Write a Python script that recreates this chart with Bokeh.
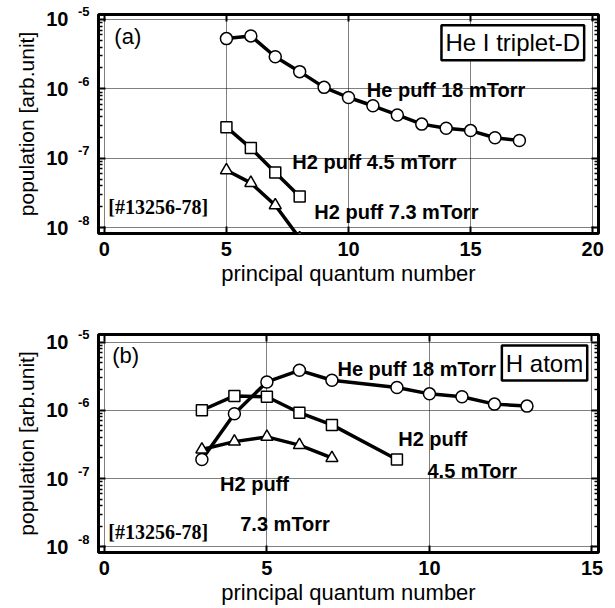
from bokeh.plotting import figure
from bokeh.models import Range1d, LinearAxis, LogAxis, Label, FixedTicker
from bokeh.layouts import column
from bokeh.embed import file_html
from bokeh.resources import INLINE

# ---------------- data: panel (a) He I triplet-D ----------------
a_he_n = [5, 6, 7, 8, 9, 10, 11, 12, 13, 14, 15, 16, 17]
a_he_pop = [5.3e-6, 5.8e-6, 2.9e-6, 1.77e-6, 1.05e-6, 7.5e-7, 5.7e-7,
            4.2e-7, 3.1e-7, 2.7e-7, 2.5e-7, 1.97e-7, 1.8e-7]
a_h245_n = [5, 6, 7, 8]
a_h245_pop = [2.8e-7, 1.4e-7, 6.2e-8, 2.8e-8]
a_h273_n = [5, 6, 7, 8]
a_h273_pop = [6.7e-8, 4.4e-8, 2.1e-8, 7.0e-9]

# ---------------- data: panel (b) H atom ----------------
b_he_n = [3, 4, 5, 6, 7, 9, 10, 11, 12, 13]
b_he_pop = [1.9e-7, 8.9e-7, 2.6e-6, 3.85e-6, 2.75e-6, 2.16e-6, 1.74e-6,
            1.58e-6, 1.23e-6, 1.15e-6]
b_h245_n = [3, 4, 5, 6, 7, 9]
b_h245_pop = [1.0e-6, 1.62e-6, 1.58e-6, 9.2e-7, 6.1e-7, 1.9e-7]
b_h273_n = [3, 4, 5, 6, 7]
b_h273_pop = [2.66e-7, 3.47e-7, 4.07e-7, 3.09e-7, 2.0e-7]

# ---------------- ticks ----------------
a_xticks = [0, 5, 10, 15, 20]
b_xticks = [0, 5, 10, 15]
y_tick_vals = [1e-8, 1e-7, 1e-6, 1e-5]
y_tick_base = ["10", "10", "10", "10"]
y_tick_exp = ["-8", "-7", "-6", "-5"]
y_minor_mult = [2, 3, 4, 5, 6, 7, 8, 9]

SANS = "Liberation Sans"
SERIF = "Liberation Serif"


def make_panel(height, xr, yr, bt, bb, xticks):
    p = figure(width=615, height=height, x_range=Range1d(*xr), y_range=Range1d(*yr),
               y_axis_type="log", output_backend="svg", toolbar_location=None,
               min_border_left=98, min_border_right=17, min_border_top=bt,
               min_border_bottom=bb)
    p.background_fill_color = "white"
    p.border_fill_color = "white"
    p.outline_line_color = "black"
    p.outline_line_width = 3

    minors = [v * m for v in y_tick_vals[:-1] for m in y_minor_mult]
    yticker = FixedTicker(ticks=y_tick_vals, minor_ticks=minors)

    top = LinearAxis()
    right = LogAxis()
    p.add_layout(top, "above")
    p.add_layout(right, "right")

    for ax in p.xaxis:
        ax.ticker = FixedTicker(ticks=xticks)
        ax.minor_tick_line_color = None
    for ax in p.yaxis:
        ax.ticker = yticker
        ax.minor_tick_in = 4
        ax.minor_tick_out = 0
        ax.minor_tick_line_width = 1.5
        ax.minor_tick_line_color = "black"
    for ax in p.axis:
        ax.axis_line_color = None
        ax.major_tick_in = 7
        ax.major_tick_out = 0
        ax.major_tick_line_width = 2
        ax.major_tick_line_color = "black"

    for ax in [top, right]:
        ax.major_label_text_font_size = "1px"
        ax.major_label_text_alpha = 0
        ax.major_label_standoff = 0

    bx = p.below[0]
    bx.major_label_text_font = SANS
    bx.major_label_text_font_style = "bold"
    bx.major_label_text_font_size = "20px"
    bx.major_label_text_color = "black"
    bx.major_label_standoff = 8
    bx.axis_label = "principal quantum number"
    bx.axis_label_text_font = SANS
    bx.axis_label_text_font_style = "normal"
    bx.axis_label_text_font_size = "22px"
    bx.axis_label_text_color = "black"
    bx.axis_label_standoff = 2

    # inner left axis: exponents (raised by an empty second line)
    inner = p.left[0]
    inner.major_label_overrides = {v: e + "\n " for v, e in zip(y_tick_vals, y_tick_exp)}
    inner.major_label_text_font = SANS
    inner.major_label_text_font_style = "bold"
    inner.major_label_text_font_size = "13px"
    inner.major_label_text_line_height = 1.0
    inner.major_label_text_color = "black"
    inner.major_label_standoff = 9

    # outer left axis: the "10" bases and the axis title
    outer = LogAxis(ticker=yticker)
    p.add_layout(outer, "left")
    outer.axis_line_color = None
    outer.major_tick_line_color = None
    outer.minor_tick_line_color = None
    outer.major_label_overrides = {v: b for v, b in zip(y_tick_vals, y_tick_base)}
    outer.major_label_text_font = SANS
    outer.major_label_text_font_style = "bold"
    outer.major_label_text_font_size = "20px"
    outer.major_label_text_color = "black"
    outer.major_label_standoff = 0
    outer.axis_label = "population [arb.unit]"
    outer.axis_label_text_font = SANS
    outer.axis_label_text_font_style = "normal"
    outer.axis_label_text_font_size = "21px"
    outer.axis_label_text_color = "black"
    outer.axis_label_standoff = 5

    p.grid.grid_line_color = "black"
    p.grid.grid_line_dash = "1 1"
    p.grid.grid_line_width = 1
    p.grid.grid_line_alpha = 1.0
    return p


def series(p, n, pop, marker, size):
    p.line(n, pop, line_color="black", line_width=3.5)
    p.scatter(n, pop, marker=marker, size=size, fill_color="white",
              line_color="black", line_width=1.5)


def note(p, x, y, text, size="20px", style="bold", font=SANS, align="left"):
    p.add_layout(Label(x=x, y=y, text=text, text_align=align, text_baseline="middle",
                       text_font=font, text_font_style=style, text_font_size=size,
                       text_color="black"))


def boxed(p, x, y, text):
    p.add_layout(Label(x=x, y=y, text=text, text_align="center", text_baseline="middle",
                       text_font=SANS, text_font_size="24px", text_color="black",
                       background_fill_color="white", border_line_color="black",
                       border_line_width=2.5, padding=4))


# ---------------- panel (a) ----------------
pa = make_panel(300, (-0.24, 20.24), (10 ** -8.086, 10 ** -4.928), 14, 67, a_xticks)
series(pa, a_he_n, a_he_pop, "circle", 12)
series(pa, a_h245_n, a_h245_pop, "square", 11)
series(pa, a_h273_n, a_h273_pop, "triangle", 12)
note(pa, 0.41, 10 ** -5.24, "(a)", size="22px", style="normal")
boxed(pa, 16.73, 10 ** -5.337, "He I triplet-D")
note(pa, 10.75, 10 ** -6.019, "He puff 18 mTorr")
note(pa, 7.7, 10 ** -7.052, "H2 puff 4.5 mTorr")
note(pa, 8.6, 10 ** -7.769, "H2 puff 7.3 mTorr")
note(pa, 0.16, 10 ** -7.697, "[#13256-78]", font=SERIF)

# ---------------- panel (b) ----------------
pb = make_panel(308, (-0.18, 15.2), (10 ** -8.084, 10 ** -4.89), 34, 56, b_xticks)
series(pb, b_he_n, b_he_pop, "circle", 12)
series(pb, b_h245_n, b_h245_pop, "square", 11)
series(pb, b_h273_n, b_h273_pop, "triangle", 12)
note(pb, 0.24, 10 ** -5.198, "(b)", size="22px", style="normal")
boxed(pb, 13.54, 10 ** -5.308, "H atom")
note(pb, 7.17, 10 ** -5.389, "He puff 18 mTorr")
note(pb, 9.04, 10 ** -6.415, "H2 puff")
note(pb, 9.94, 10 ** -6.884, "4.5 mTorr")
note(pb, 3.56, 10 ** -7.075, "H2 puff")
note(pb, 4.18, 10 ** -7.662, "7.3 mTorr")
note(pb, 0.12, 10 ** -7.779, "[#13256-78]", font=SERIF)

layout = column(pa, pb, spacing=0)
open("out.html", "w").write(file_html(layout, INLINE))
